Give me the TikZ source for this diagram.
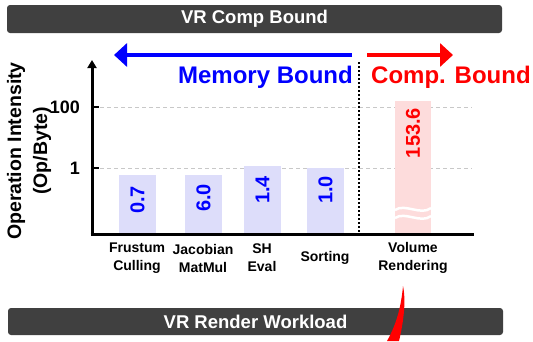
\documentclass[tikz,border=0pt]{standalone}
\usepackage{fontspec}
\setmainfont{Liberation Sans}
\usetikzlibrary{arrows.meta}
\definecolor{darkbar}{RGB}{64,64,64}
\definecolor{blubar}{RGB}{221,221,250}
\definecolor{redbar}{RGB}{253,220,220}
\definecolor{gridc}{RGB}{200,200,200}
\begin{document}
\begin{tikzpicture}[x=1pt,y=-1pt,
  banner/.style={fill=darkbar, rounded corners=3pt, text=white, inner sep=0pt,
    font=\bfseries\fontsize{18.5}{20}\selectfont, minimum width=495pt},
  catlbl/.style={font=\bfseries\fontsize{14}{18}\selectfont, align=center, inner sep=0pt},
  vallbl/.style={font=\bfseries\fontsize{20}{24}\selectfont, rotate=90, inner sep=0pt},
  ticklbl/.style={font=\bfseries\fontsize{18}{20}\selectfont, anchor=east, inner sep=0pt},
  bigl/.style={font=\bfseries\fontsize{24}{28}\selectfont, inner sep=0pt},
  gridl/.style={gridc, line width=1pt, dash pattern=on 4pt off 3pt},
  bluebar/.style={fill=blubar},
  redbarst/.style={fill=redbar}
]
\useasboundingbox (0,0) rectangle (533,341);

% banners
\node[banner, minimum height=28pt] (topbar) at (254.5,19) {VR Comp Bound};
\node[banner, minimum height=27pt] (botbar) at (255.5,321.5) {VR Render Workload};

% grid lines
\draw[gridl] (100,107) -- (472,107);
\draw[gridl] (100,168) -- (472,168);

% bars
\fill[bluebar] (119,175) rectangle (156,234);
\fill[bluebar] (185,175) rectangle (222,234);
\fill[bluebar] (244,166) rectangle (281,234);
\fill[bluebar] (307,168) rectangle (344,234);
\fill[redbarst] (395,101) rectangle (431,234);

% break marks
\draw[white, line width=2.5pt] (395,210) .. controls (405,203) and (421,216) .. (431,208);
\draw[white, line width=2.5pt] (395,218) .. controls (405,211) and (421,224) .. (431,216);

% axes
\coordinate (ytop) at (92,60);
\coordinate (ybot) at (92,235.5);
\coordinate (xl) at (90.5,234);
\coordinate (xr) at (474,234);
\draw[line width=3pt, -{Triangle[width=9pt,length=8pt]}] (ybot) -- (ytop);
\draw[line width=3pt] (xl) -- (xr);
\draw[line width=2pt] (92,107) -- (99,107);
\draw[line width=2pt] (92,168) -- (99,168);

% divider
\coordinate (dvt) at (359,62);
\coordinate (dvb) at (359,234);
\draw[line width=2pt, dash pattern=on 2pt off 2pt] (dvt) -- (dvb);

% tick labels
\node[ticklbl] (t100) at (80,107) {100};
\node[ticklbl] (t1) at (80,168) {1};

% y label
\node[font=\bfseries\fontsize{19.5}{26}\selectfont, rotate=90, align=center, inner sep=0pt] (ylab) at (29,151) {Operation Intensity\\(Op/Byte)};

% value labels
\node[vallbl, text=blue] (v1) at (137.5,200) {0.7};
\node[vallbl, text=blue] (v2) at (203.5,198) {6.0};
\node[vallbl, text=blue] (v3) at (262.5,190) {1.4};
\node[vallbl, text=blue] (v4) at (325.5,190) {1.0};
\node[vallbl, text=red] (v5) at (413,133) {153.6};

% category labels
\node[catlbl] (c1) at (137,258) {Frustum\\Culling};
\node[catlbl] (c2) at (203,258) {Jacobian\\MatMul};
\node[catlbl] (c3) at (262,258) {SH\\Eval};
\node[catlbl] (c4) at (325,258) {Sorting};
\node[catlbl] (c5) at (413,258) {Volume\\Rendering};

% bound arrows
\coordinate (ba0) at (352,55);
\coordinate (ba1) at (114,55);
\coordinate (ra0) at (367,55);
\coordinate (ra1) at (453,55);
\draw[blue, line width=4.5pt, -{Triangle[width=23pt,length=13pt]}] (ba0) -- (ba1);
\draw[red, line width=4.5pt, -{Triangle[width=23pt,length=13pt]}] (ra0) -- (ra1);
\node[bigl, text=blue, anchor=east] (mem) at (353,77) {Memory Bound};
\node[bigl, text=red, anchor=west] (comp) at (371,77) {Comp. Bound};

% red swoosh
\fill[red] (403,286) .. controls (401,308) and (396,325) .. (387,341) -- (399,341) .. controls (404,320) and (406,300) .. (403,286) -- cycle;
\end{tikzpicture}
\end{document}
